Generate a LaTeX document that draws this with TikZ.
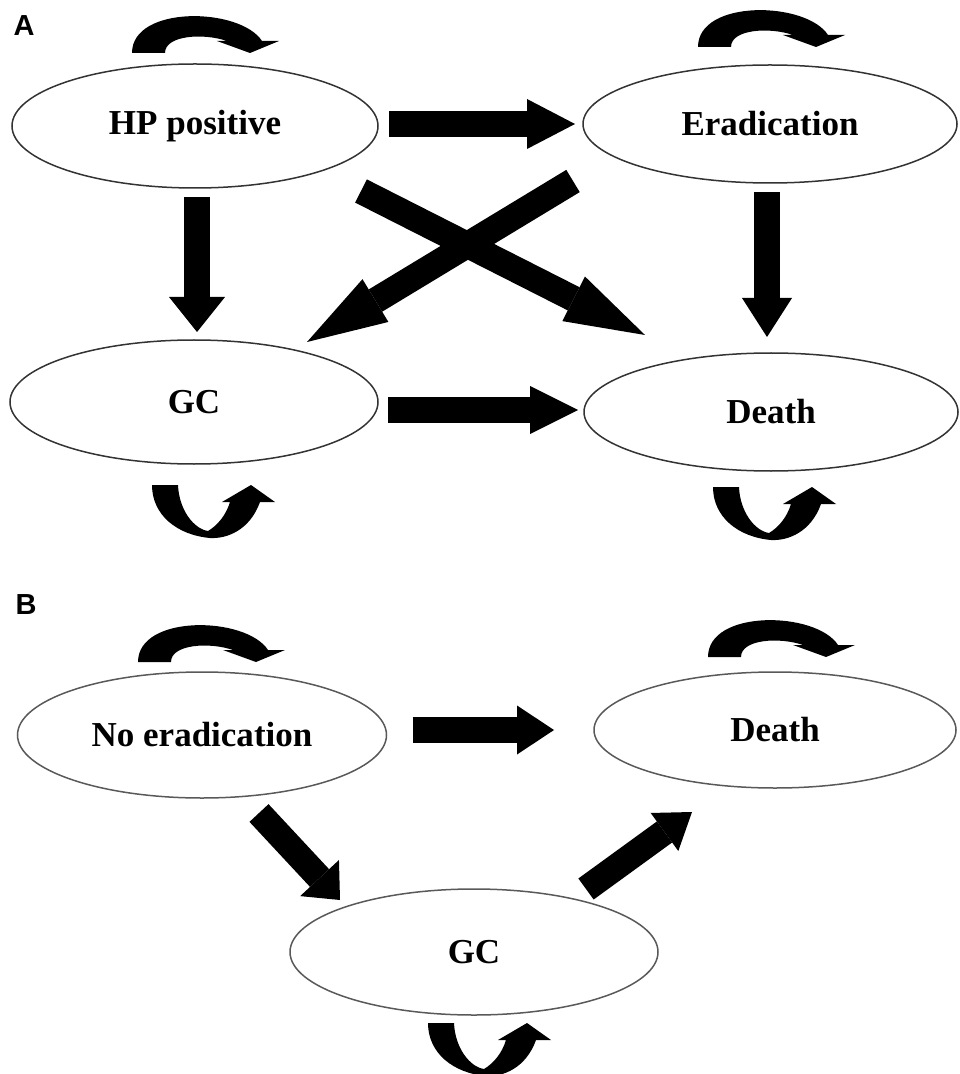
\documentclass[tikz,border=0pt]{standalone}
\usepackage{fontspec}
\setmainfont{Liberation Serif}
\newfontfamily\panelfont{Liberation Sans}
\usetikzlibrary{shapes.geometric,arrows.meta,calc}

\begin{document}
\begin{tikzpicture}[x=0.5pt,y=-0.5pt,
  state/.style args={#1 by #2}{ellipse,draw=black!80,line width=0.75pt,inner sep=0pt,outer sep=0pt,
    minimum width=#1,minimum height=#2,font=\bfseries\fontsize{17.5}{20}\selectfont},
  panel/.style={font=\panelfont\bfseries\fontsize{14.5}{16}\selectfont},
  flow/.style 2 args={line width=13pt,-{Triangle[length=#1,width=#2,line width=0pt]}},
  looptop/.pic={\fill (0,0) -- (33,0) .. controls (33,-18) and (72,-20) .. (95,-12) -- (85,-12) -- (118,0)
    -- (147,-12) -- (130,-12) .. controls (108,-46) and (0,-48) .. (0,0) -- cycle;},
  loopbottom/.pic={\fill (0,0) -- (26,0) .. controls (27,25) and (42,44) .. (56,46) .. controls (66,40) and (74,30) .. (78,17)
    -- (70,17) -- (99,0) -- (123,17) -- (108,17) .. controls (98,45) and (75,54) .. (58,53)
    .. controls (25,50) and (0,30) .. (0,0) -- cycle;}]
\useasboundingbox (0,0) rectangle (959,1074);

% panel A
\node[panel] (labA) at (24,26) {A};
\node[state={183pt by 62pt}] (hp) at (195,126) {HP positive};
\node[state={187pt by 59pt}] (erad) at (770,124) {Eradication};
\node[state={184pt by 62pt}] (gcA) at (194,402) {GC};
\node[state={187pt by 59pt}] (deathA) at (771,412) {Death};

\draw[flow={24pt}{25pt}] ($(hp.east)+(11,-2)$) -- ($(erad.west)+(-8,0)$);
\draw[flow={17.5pt}{28pt}] ($(hp.south)+(2,9)$) -- ($(gcA.north)+(3,-8)$);
\draw[flow={19.5pt}{25pt}] ($(erad.south)+(-3,9)$) -- ($(deathA.north)+(-4,-16)$);
\draw[flow={24pt}{24pt}] ($(gcA.east)+(10,8)$) -- ($(deathA.west)+(-6,-2)$);
\draw[flow={40pt}{25pt}] ($(hp.center)+(166,65)$) -- ($(deathA.center)+(-126,-77)$);
\draw[flow={40pt}{25pt}] ($(erad.center)+(-197,57)$) -- ($(gcA.center)+(113,-60)$);

\pic at ($(hp.north)+(-63,-11)$) {looptop};
\pic at ($(erad.north)+(-72,-18)$) {looptop};
\pic at ($(gcA.south)+(-42,21)$) {loopbottom};
\pic at ($(deathA.south)+(-58,16)$) {loopbottom};

% panel B
\node[panel] (labB) at (26,605) {B};
\node[state={184.5pt by 63pt},draw=black!65] (noerad) at (202,735) {No eradication};
\node[state={181pt by 58pt},draw=black!65] (deathB) at (775,730) {Death};
\node[state={184pt by 63pt},draw=black!65] (gcB) at (474,952) {GC};

\draw[flow={18.5pt}{24.5pt}] ($(noerad.east)+(26,-5)$) -- ($(deathB.west)+(-40,0)$);
\draw[flow={15pt}{26.5pt}] ($(noerad.center)+(57,78)$) -- ($(gcB.center)+(-134,-52)$);
\draw[flow={17pt}{23.5pt}] ($(gcB.center)+(112,-63)$) -- ($(deathB.center)+(-83,82)$);

\pic at ($(noerad.north)+(-64,-10)$) {looptop};
\pic at ($(deathB.north)+(-67,-15)$) {looptop};
\pic at ($(gcB.south)+(-46,8)$) {loopbottom};
\end{tikzpicture}
\end{document}
